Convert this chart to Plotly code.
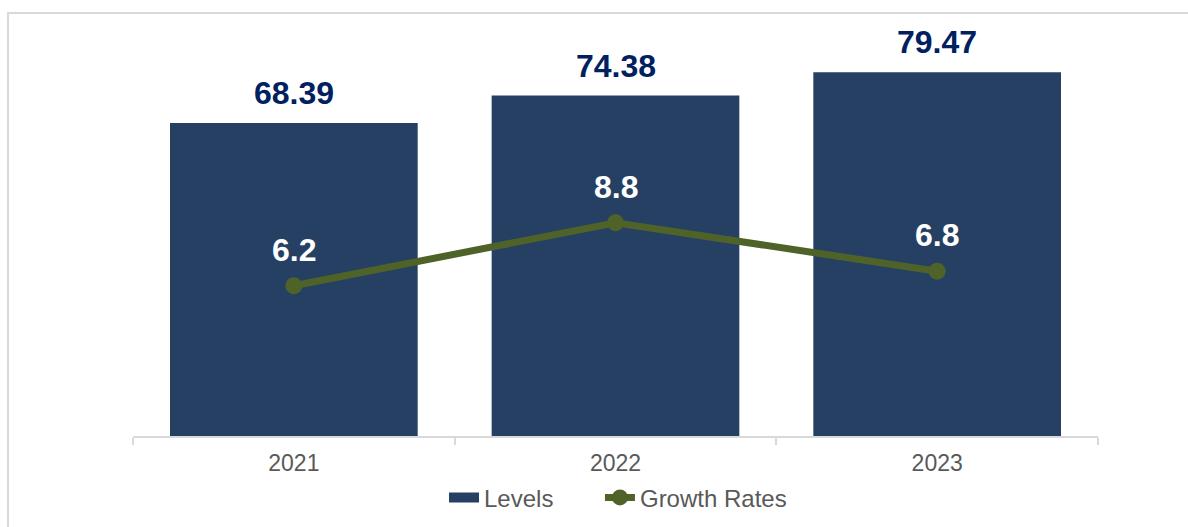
import plotly.graph_objects as go

years = ["2021", "2022", "2023"]
levels = [68.39, 74.38, 79.47]
growth = [6.2, 8.8, 6.8]
series_names = ["Levels", "Growth Rates"]

BAR_COLOR = "#264063"
LINE_COLOR = "#4F6228"
LABEL_NAVY = "#002060"
GRID_GRAY = "#D9D9D9"
TEXT_GRAY = "#595959"
FONT = "Arial, Liberation Sans, sans-serif"

fig = go.Figure()
fig.add_trace(go.Bar(
    x=years, y=levels, name=series_names[0],
    marker=dict(color=BAR_COLOR, line=dict(width=0)),
    yaxis="y", hoverinfo="skip", showlegend=False,
))
# legend-only swatch so the "Levels" key is drawn as a wide block like the original
fig.add_trace(go.Scatter(
    x=[None], y=[None], name=series_names[0], mode="lines",
    line=dict(color=BAR_COLOR, width=12), hoverinfo="skip", legend="legend",
))
fig.add_trace(go.Scatter(
    x=years, y=growth, name=series_names[1],
    mode="lines+markers",
    line=dict(color=LINE_COLOR, width=7),
    marker=dict(color=LINE_COLOR, size=17),
    yaxis="y2", hoverinfo="skip", legend="legend2",
))

annotations = []
for i, v in enumerate(levels):
    annotations.append(dict(
        x=i, y=v, xref="x", yref="y", text=f"<b>{v:.2f}</b>", showarrow=False,
        yanchor="bottom", yshift=10,
        font=dict(family=FONT, size=32, color=LABEL_NAVY),
    ))
for i, v in enumerate(growth):
    annotations.append(dict(
        x=i, y=v, xref="x", yref="y2", text=f"<b>{v:.1f}</b>", showarrow=False,
        yanchor="bottom", yshift=16,
        font=dict(family=FONT, size=32, color="white"),
    ))

legend_style = dict(
    orientation="h", xanchor="left", y=-0.15, yanchor="middle",
    font=dict(family=FONT, size=24, color=TEXT_GRAY),
    bgcolor="rgba(0,0,0,0)",
)

fig.update_layout(
    width=1188, height=527,
    margin=dict(l=133, r=90, t=24, b=91, autoexpand=False),
    paper_bgcolor="white", plot_bgcolor="white",
    font=dict(family=FONT, color=TEXT_GRAY, size=24),
    bargap=0.23,
    showlegend=True,
    legend=dict(x=0.3223, **legend_style),
    legend2=dict(x=0.4839, **legend_style),
    xaxis=dict(
        type="category", range=[-0.5, 2.5],
        showline=True, linecolor=GRID_GRAY, linewidth=2,
        ticks="outside", tickson="boundaries", ticklen=7, tickcolor=GRID_GRAY, tickwidth=2,
        showgrid=False, tickfont=dict(family=FONT, size=23, color=TEXT_GRAY),
        ticklabelstandoff=5,
        fixedrange=True, automargin=False,
    ),
    yaxis=dict(range=[0, 90], visible=False, showgrid=False, zeroline=False),
    yaxis2=dict(range=[0, 17], overlaying="y", side="right", visible=False,
                showgrid=False, zeroline=False),
    annotations=annotations,
    shapes=[dict(
        type="rect", xref="paper", yref="paper",
        x0=-0.1295, x1=1.3, y0=-0.6, y1=1.0267,
        line=dict(color=GRID_GRAY, width=2), fillcolor="rgba(0,0,0,0)", layer="below",
    )],
)

fig.write_html("out.html", config={"displayModeBar": False},
               post_script="document.body.style.margin='0';")
